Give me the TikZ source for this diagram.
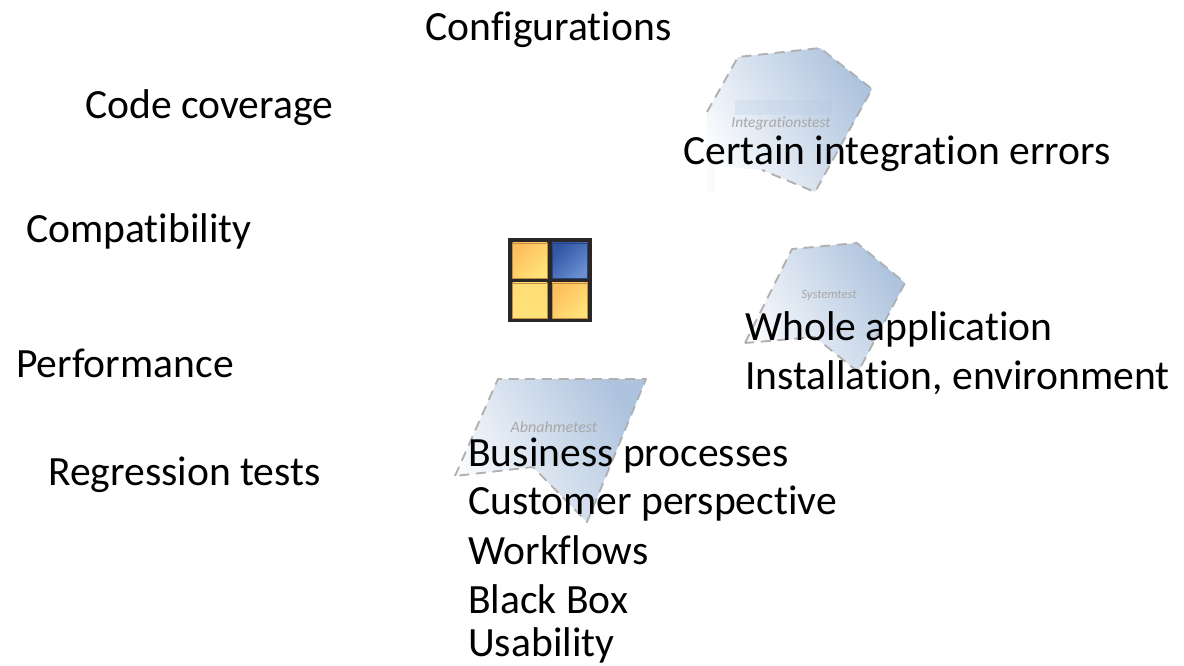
\documentclass[tikz,border=0pt]{standalone}
\usepackage{fontspec}
\setmainfont[Ligatures=NoCommon]{Carlito}
\definecolor{dashgray}{HTML}{B0B0B0}
\definecolor{paneblue}{HTML}{AEC3DE}
\definecolor{panemid}{HTML}{E3EAF4}
\definecolor{panelight}{HTML}{F9FBFD}
\definecolor{faintlabel}{HTML}{A8A8A8}
\definecolor{iconframe}{HTML}{2A2626}
\definecolor{ylight}{HTML}{FFE27A}
\definecolor{ydark}{HTML}{FDBF5C}
\definecolor{bluedark}{HTML}{2F55A4}
\definecolor{bluelight}{HTML}{6A8ED0}
\tikzset{
  x=0.75pt,y=-0.75pt,
  lab/.style={anchor=base west,inner sep=0pt,font=\fontsize{31.2pt}{33pt}\selectfont,text=black},
  faint/.style={anchor=base,inner sep=0pt,text=faintlabel,font=\fontsize{11.6pt}{12pt}\selectfont\itshape},
  pane/.style={left color=panelight,middle color=panemid,right color=paneblue,shading angle=120},
  panedge/.style={draw=dashgray,line width=1.4pt,dash pattern=on 7.5pt off 5pt,line join=round},
  cell/.style={draw=ydark!75!black,line width=0.4pt},
}
\begin{document}
\begin{tikzpicture}
\useasboundingbox (0,0) rectangle (1184,666);
% integration pane
\fill[panelight] (707,112) rectangle (715,193);
\shade[pane] (738,57) -- (820,48) -- (872,89) -- (815,192) -- (762,170) -- (707,165) -- (707,112) -- cycle;
\fill[paneblue,opacity=.2] (735,100) rectangle (832,115);
\draw[panedge] (707,112) -- (738,57) -- (820,48) -- (872,89) -- (815,192) -- (762,170);
\node[faint] (t1) at (781,128) {Integrationstest};
% system pane
\shade[pane] (792,249) -- (857,243) -- (905,283) -- (858,372) -- (815,337) -- (745,343) -- cycle;
\draw[panedge] (745,343) -- (792,249) -- (857,243) -- (905,283) -- (858,372) -- (815,337) -- cycle;
\node[faint,font=\fontsize{9.5pt}{11pt}\selectfont\itshape] (t2) at (829,299) {Systemtest};
% acceptance pane
\shade[pane] (498,379) -- (646,379) -- (587,522) -- (533,467) -- (455,476) -- cycle;
\draw[panedge] (455,476) -- (498,379) -- (646,379) -- (587,522) -- (533,467) -- cycle;
\node[faint,font=\fontsize{12pt}{13pt}\selectfont\itshape] (t3) at (554,432) {Abnahmetest};
% icon
\fill[iconframe] (508,238) rectangle (592,322);
\shade[cell,bottom color=ylight,top color=ydark,shading angle=45] (512.5,243) rectangle (547,278);
\shade[draw=bluedark!80!black,line width=0.4pt,bottom color=bluelight,top color=bluedark,shading angle=45] (552,243) rectangle (587.5,278);
\shade[cell,bottom color=ylight,top color=ylight!85!ydark] (512.5,283) rectangle (547,318.5);
\shade[cell,bottom color=ylight,top color=ydark,shading angle=45] (552,283) rectangle (587.5,318.5);
% labels
\node[lab] (a) at (425,41) {Configurations};
\node[lab] (b) at (85,118.5) {Code coverage};
\node[lab] (c) at (26,243) {Compatibility};
\node[lab] (d) at (16,378) {Performance};
\node[lab] (e) at (48,485) {Regression tests};
\node[lab] (f) at (683,165) {Certain integration errors};
\node[lab] (g) at (745,340.5) {Whole application};
\node[lab] (h) at (745,389.5) {Installation, environment};
\node[lab] (i) at (468,466) {Business processes};
\node[lab] (j) at (468,514.5) {Customer perspective};
\node[lab] (k) at (468,564) {Workflows};
\node[lab] (l) at (468,613) {Black Box};
\node[lab] (m) at (468,656) {Usability};
\end{tikzpicture}
\end{document}
